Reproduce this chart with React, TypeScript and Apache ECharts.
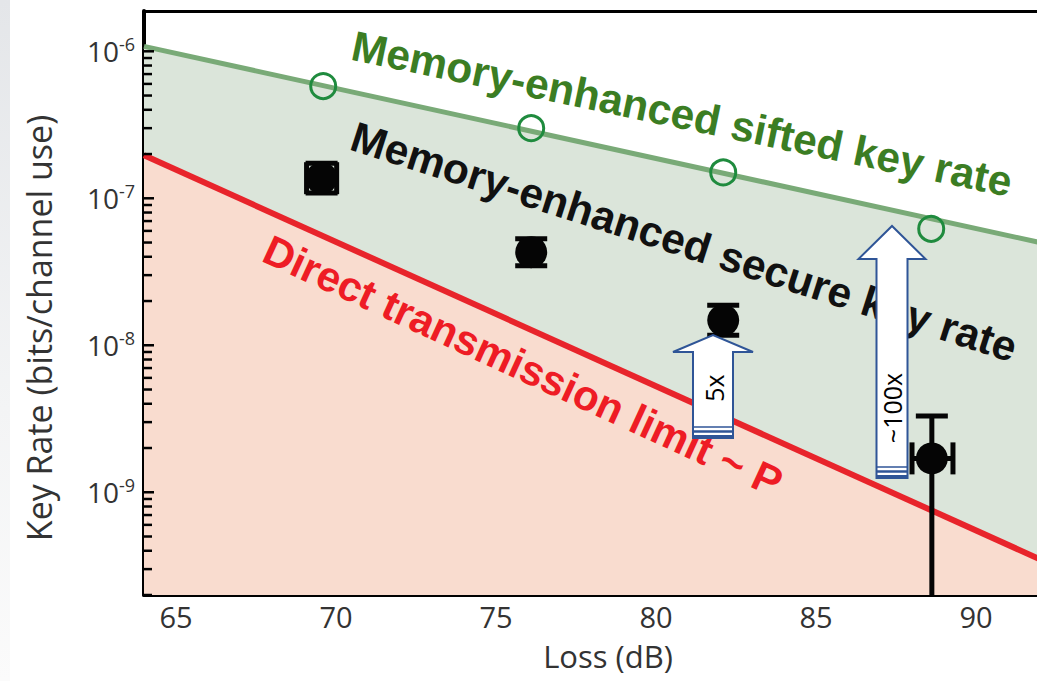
import React, { useEffect, useRef } from 'react';
import * as echarts from 'echarts';

// ---------- data ----------
const xTickValues = [65, 70, 75, 80, 85, 90];
const lossMin = 64;
const lossMax = 91.906;
const rateMin = 2e-10;
const rateMax = 1.88e-6;

// boundary lines [loss dB, key rate]
const siftedLine = [[64, 1.08e-6], [92, 5.0e-8]];
const directLine = [[64, 1.96e-7], [92, 3.5e-10]];

// memory-enhanced sifted key rate points (open circles)
const siftedLoss = [69.6, 76.1, 82.1, 88.6];
const siftedRate = [5.8e-7, 3.0e-7, 1.5e-7, 6.2e-8];

// memory-enhanced secure key rate points (filled, with error bars)
const secureLoss = [69.55, 76.1, 82.1, 88.62];
const secureRate = [1.37e-7, 4.3e-8, 1.48e-8, 1.7e-9];
const lossErrLow = [69.08, 76.1, 82.1, 88.0];
const lossErrHigh = [70.02, 76.1, 82.1, 89.28];
const rateErrLow = [1.085e-7, 3.48e-8, 1.17e-8, 2e-10];
const rateErrHigh = [1.73e-7, 5.31e-8, 1.87e-8, 3.3e-9];

// log-axis tick positions
const tickDecades = [1e-10, 1e-9, 1e-8, 1e-7, 1e-6];
const tickMantissas = [1, 2, 3, 4, 5, 6, 7, 8, 9];

const AXIS_FONT = '"Open Sans", "Noto Sans", sans-serif';
const BOLD_FONT = '"Liberation Sans", Arial, sans-serif';

export default function App() {
  const ref = useRef<HTMLDivElement>(null);

  useEffect(() => {
    const chart = echarts.init(ref.current!, null, { renderer: 'svg' });

    const yTicks: number[][] = [];
    tickDecades.forEach((d) =>
      tickMantissas.forEach((m) => {
        const v = m * d;
        if (v >= rateMin && v <= rateMax) yTicks.push([lossMin, v, m === 1 ? 1 : 0]);
      })
    );

    const errData = secureLoss.map((x, i) => [
      x,
      secureRate[i],
      lossErrLow[i],
      lossErrHigh[i],
      rateErrLow[i],
      rateErrHigh[i],
    ]);

    const CAP = 16;
    const errStyle = { stroke: '#050505', lineWidth: 5 };

    const arrow = (
      cx: number,
      tipY: number,
      headY: number,
      bottom: number,
      shaftHalf: number,
      headHalf: number
    ) => [
      {
        type: 'polygon',
        z: 100,
        shape: {
          points: [
            [cx - shaftHalf, bottom],
            [cx - shaftHalf, headY],
            [cx - headHalf, headY],
            [cx, tipY],
            [cx + headHalf, headY],
            [cx + shaftHalf, headY],
            [cx + shaftHalf, bottom],
          ],
        },
        style: { fill: '#ffffff', stroke: '#2f5597', lineWidth: 2 },
      },
      {
        type: 'line',
        z: 101,
        shape: { x1: cx - shaftHalf, y1: bottom - 11, x2: cx + shaftHalf, y2: bottom - 11 },
        style: { stroke: '#2f5597', lineWidth: 1.5 },
      },
      {
        type: 'line',
        z: 101,
        shape: { x1: cx - shaftHalf, y1: bottom - 6.5, x2: cx + shaftHalf, y2: bottom - 6.5 },
        style: { stroke: '#2f5597', lineWidth: 2.5 },
      },
      {
        type: 'line',
        z: 101,
        shape: { x1: cx - shaftHalf, y1: bottom - 2, x2: cx + shaftHalf, y2: bottom - 2 },
        style: { stroke: '#2f5597', lineWidth: 2 },
      },
    ];

    const rotText = (
      text: string,
      x: number,
      y: number,
      deg: number,
      fill: string,
      font: string
    ) => ({
      type: 'text',
      z: 90,
      x,
      y,
      rotation: (deg * Math.PI) / 180,
      style: {
        text,
        fill,
        font,
        align: 'center',
        verticalAlign: 'middle',
        textAlign: 'center',
        textVerticalAlign: 'middle',
      },
    });

    const option: any = {
      animation: false,
      backgroundColor: '#ffffff',
      grid: { left: 144, right: 0, top: 11, bottom: 86, containLabel: false },
      xAxis: [
        {
          type: 'value',
          min: lossMin,
          max: lossMax,
          position: 'bottom',
          axisLine: { show: true, onZero: false, lineStyle: { color: '#000', width: 4 } },
          axisTick: {
            show: true,
            inside: true,
            length: 8,
            customValues: xTickValues,
            lineStyle: { color: '#000', width: 2.5 },
          },
          axisLabel: {
            show: true,
            customValues: xTickValues,
            margin: 7,
            color: '#333',
            fontSize: 29,
            fontFamily: AXIS_FONT,
          },
          splitLine: { show: false },
        },
        {
          type: 'value',
          min: lossMin,
          max: lossMax,
          position: 'top',
          axisLine: { show: true, onZero: false, lineStyle: { color: '#000', width: 3 } },
          axisTick: { show: false },
          axisLabel: { show: false },
          splitLine: { show: false },
        },
      ],
      yAxis: {
        type: 'log',
        logBase: 10,
        min: rateMin,
        max: rateMax,
        axisLine: { show: true, onZero: false, lineStyle: { color: '#000', width: 4 } },
        axisTick: { show: false },
        splitLine: { show: false },
        axisLabel: {
          show: true,
          showMinLabel: false,
          showMaxLabel: false,
          margin: 9,
          formatter: (v: number) => {
            const e = Math.log10(v);
            const r = Math.round(e);
            if (Math.abs(e - r) > 1e-6) return '';
            return `{b|10}{s|${r}}`;
          },
          rich: {
            b: { fontSize: 28, fontFamily: AXIS_FONT, color: '#333', lineHeight: 32 },
            s: {
              fontSize: 18,
              fontFamily: AXIS_FONT,
              color: '#333',
              lineHeight: 20,
              verticalAlign: 'top',
            },
          },
        },
      },
      series: [
        {
          type: 'line',
          z: 1,
          data: siftedLine,
          symbol: 'none',
          clip: true,
          lineStyle: { color: '#79aa77', width: 5 },
          areaStyle: { color: '#dbe5da', origin: 'start', opacity: 1 },
        },
        {
          type: 'line',
          z: 2,
          data: directLine,
          symbol: 'none',
          clip: true,
          lineStyle: { color: '#e8242b', width: 6 },
          areaStyle: { color: '#f9dccf', origin: 'start', opacity: 1 },
        },
        {
          type: 'custom',
          z: 3,
          data: yTicks,
          clip: false,
          renderItem: (params: any, api: any) => {
            const p = api.coord([api.value(0), api.value(1)]);
            const len = api.value(2) ? 10 : 8;
            return {
              type: 'line',
              shape: { x1: p[0], y1: p[1], x2: p[0] + len, y2: p[1] },
              style: { stroke: '#000', lineWidth: 2.5 },
            };
          },
        },
        {
          type: 'scatter',
          z: 5,
          data: siftedLoss.map((x, i) => [x, siftedRate[i]]),
          symbol: 'circle',
          symbolSize: 25,
          itemStyle: { color: 'rgba(0,0,0,0)', borderColor: '#1f8b3e', borderWidth: 3, opacity: 1 },
        },
        {
          type: 'custom',
          z: 6,
          data: errData,
          clip: true,
          renderItem: (params: any, api: any) => {
            const x = api.value(0);
            const y = api.value(1);
            const xl = api.value(2);
            const xh = api.value(3);
            const yl = api.value(4);
            const yh = api.value(5);
            const c = api.coord([x, y]);
            const pl = api.coord([x, yl]);
            const ph = api.coord([x, yh]);
            const children: any[] = [
              { type: 'line', shape: { x1: c[0], y1: pl[1], x2: c[0], y2: ph[1] }, style: errStyle },
              {
                type: 'line',
                shape: { x1: c[0] - CAP, y1: ph[1], x2: c[0] + CAP, y2: ph[1] },
                style: errStyle,
              },
            ];
            if (yl > rateMin) {
              children.push({
                type: 'line',
                shape: { x1: c[0] - CAP, y1: pl[1], x2: c[0] + CAP, y2: pl[1] },
                style: errStyle,
              });
            }
            if (xh > xl) {
              const ql = api.coord([xl, y]);
              const qh = api.coord([xh, y]);
              children.push(
                { type: 'line', shape: { x1: ql[0], y1: c[1], x2: qh[0], y2: c[1] }, style: errStyle },
                {
                  type: 'line',
                  shape: { x1: ql[0], y1: c[1] - CAP, x2: ql[0], y2: c[1] + CAP },
                  style: errStyle,
                },
                {
                  type: 'line',
                  shape: { x1: qh[0], y1: c[1] - CAP, x2: qh[0], y2: c[1] + CAP },
                  style: errStyle,
                }
              );
            }
            return { type: 'group', children };
          },
        },
        {
          type: 'scatter',
          z: 7,
          data: secureLoss.map((x, i) => [x, secureRate[i]]),
          symbol: 'circle',
          symbolSize: 32,
          itemStyle: { color: '#050505', opacity: 1 },
        },
      ],
      graphic: [
        {
          type: 'rect',
          z: 0,
          shape: { x: 0, y: 0, width: 10, height: 681 },
          style: {
            fill: {
              type: 'linear',
              x: 0,
              y: 0,
              x2: 0,
              y2: 1,
              colorStops: [
                { offset: 0, color: '#e4e6e9' },
                { offset: 0.6, color: '#f3f4f5' },
                { offset: 1, color: '#fbfbfb' },
              ],
            },
          },
        },
        rotText('Key Rate (bits/channel use)', 39, 328, 90, '#333', `34px ${AXIS_FONT}`),
        rotText('Loss (dB)', 608, 656, 0, '#333', `31px ${AXIS_FONT}`),
        rotText('Memory-enhanced sifted key rate', 682, 114, -11.8, '#3b7d23', `bold 42.5px ${BOLD_FONT}`),
        rotText('Memory-enhanced secure key rate', 684, 242, -17.8, '#111111', `bold 42.5px ${BOLD_FONT}`),
        rotText('Direct transmission limit ~ P', 523, 366, -24.8, '#ee1c25', `bold 42px ${BOLD_FONT}`),
        ...arrow(713, 335, 352, 438, 20, 40),
        ...arrow(892, 226, 259, 478, 15.5, 33.5),
        { ...rotText('5x', 714, 388, 90, '#000', `25px ${AXIS_FONT}`), z: 110 },
        { ...rotText('~100x', 892, 408, 90, '#000', `25px ${AXIS_FONT}`), z: 110 },
      ],
    };

    chart.setOption(option);
    return () => chart.dispose();
  }, []);

  return (
    <div
      ref={ref}
      style={{ position: 'absolute', left: 0, top: 0, width: 1037, height: 681, background: '#fff' }}
    />
  );
}
